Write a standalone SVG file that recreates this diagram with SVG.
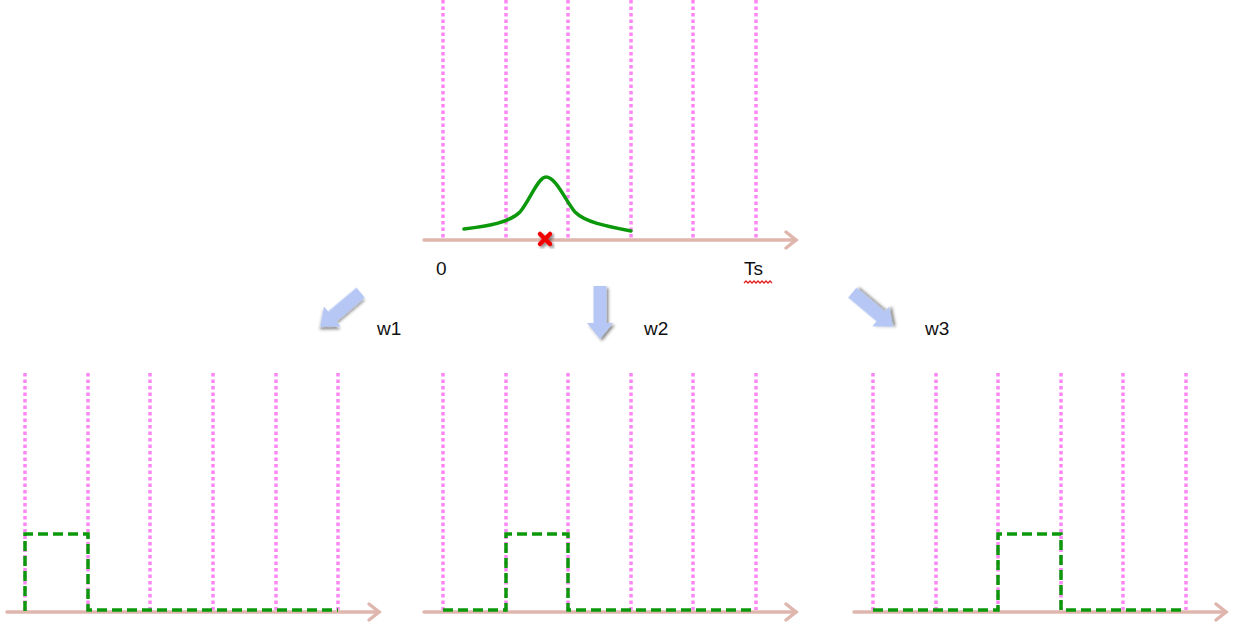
<svg xmlns="http://www.w3.org/2000/svg" width="1235" height="625" viewBox="0 0 1235 625">
<defs>
<style>
.grid{stroke:#fb86f4;stroke-width:3.5;stroke-dasharray:3.5 3;fill:none}
.axis{stroke:#dfb6ae;stroke-width:3.5;fill:none;stroke-linecap:round}
.pulse{stroke:#0b990b;stroke-width:3.5;stroke-dasharray:10 5;fill:none}
.curve{stroke:#0b990b;stroke-width:3.5;fill:none;stroke-linecap:round}
.lbl{font-family:"Liberation Sans",Arial,sans-serif;font-size:19px;fill:#111}
.barrow{fill:#b6c7f6}
</style>
<filter id="sh" x="-50%" y="-50%" width="200%" height="200%">
<feDropShadow dx="2" dy="2" stdDeviation="1.5" flood-color="#000" flood-opacity="0.45"/>
</filter>
<path id="down" d="M-6.5,-27 H6.5 V10 H13 L0,26 L-13,10 H-6.5 Z"/>
</defs>

<g id="top-panel">
<g class="grid">
<line x1="443" y1="0" x2="443" y2="238"/>
<line x1="506" y1="0" x2="506" y2="238"/>
<line x1="568" y1="0" x2="568" y2="238"/>
<line x1="631" y1="0" x2="631" y2="238"/>
<line x1="693" y1="0" x2="693" y2="238"/>
<line x1="756" y1="0" x2="756" y2="238"/>
</g>
<line class="axis" x1="424" y1="240" x2="796" y2="240"/>
<polyline class="axis" points="786,232 796,240 786,248"/>
<path class="curve" d="M464,229 C490,226 510,222 520,212 C530,200 538,177 546,177 C556,177 565,200 575,212 C585,222 605,226 631,231"/>
<g filter="url(#sh)" stroke="#f00000" stroke-width="4.5" stroke-linecap="round">
<line x1="540" y1="234" x2="550" y2="244"/>
<line x1="550" y1="234" x2="540" y2="244"/>
</g>
<text class="lbl" x="436" y="275">0</text>
<text class="lbl" x="744" y="275">Ts</text>
<path d="M744,283 l2,-2 l2,2 l2,-2 l2,2 l2,-2 l2,2 l2,-2 l2,2 l2,-2 l2,2 l2,-2 l2,2 l2,-2 l2,2" stroke="#e02020" stroke-width="1.3" fill="none"/>
</g>

<g id="arrow-w1">
<use href="#down" class="barrow" filter="url(#sh)" transform="translate(340,310) rotate(50)"/>
<text class="lbl" x="377" y="335">w1</text>
</g>
<g id="arrow-w2">
<use href="#down" class="barrow" filter="url(#sh)" transform="translate(600,313)"/>
<text class="lbl" x="644" y="335">w2</text>
</g>
<g id="arrow-w3">
<use href="#down" class="barrow" filter="url(#sh)" transform="translate(873,310) rotate(-50)"/>
<text class="lbl" x="925" y="335">w3</text>
</g>

<g id="panel-w1">
<g class="grid">
<line x1="25" y1="373" x2="25" y2="610"/>
<line x1="88" y1="373" x2="88" y2="610"/>
<line x1="150" y1="373" x2="150" y2="610"/>
<line x1="213" y1="373" x2="213" y2="610"/>
<line x1="276" y1="373" x2="276" y2="610"/>
<line x1="338" y1="373" x2="338" y2="610"/>
</g>
<line class="axis" x1="7" y1="612" x2="379" y2="612"/>
<polyline class="axis" points="369,604 379,612 369,620"/>
<polyline class="pulse" points="25,611 25,534 88,534 88,610 338,610"/>
</g>

<g id="panel-w2">
<g class="grid">
<line x1="443" y1="373" x2="443" y2="610"/>
<line x1="506" y1="373" x2="506" y2="610"/>
<line x1="568" y1="373" x2="568" y2="610"/>
<line x1="631" y1="373" x2="631" y2="610"/>
<line x1="693" y1="373" x2="693" y2="610"/>
<line x1="756" y1="373" x2="756" y2="610"/>
</g>
<line class="axis" x1="424" y1="612" x2="796" y2="612"/>
<polyline class="axis" points="786,604 796,612 786,620"/>
<polyline class="pulse" points="443,610 506,610 506,534 568,534 568,610 756,610"/>
</g>

<g id="panel-w3">
<g class="grid">
<line x1="873" y1="373" x2="873" y2="610"/>
<line x1="936" y1="373" x2="936" y2="610"/>
<line x1="998" y1="373" x2="998" y2="610"/>
<line x1="1061" y1="373" x2="1061" y2="610"/>
<line x1="1123" y1="373" x2="1123" y2="610"/>
<line x1="1186" y1="373" x2="1186" y2="610"/>
</g>
<line class="axis" x1="854" y1="612" x2="1226" y2="612"/>
<polyline class="axis" points="1216,604 1226,612 1216,620"/>
<polyline class="pulse" points="873,610 998,610 998,534 1061,534 1061,610 1186,610"/>
</g>
</svg>
